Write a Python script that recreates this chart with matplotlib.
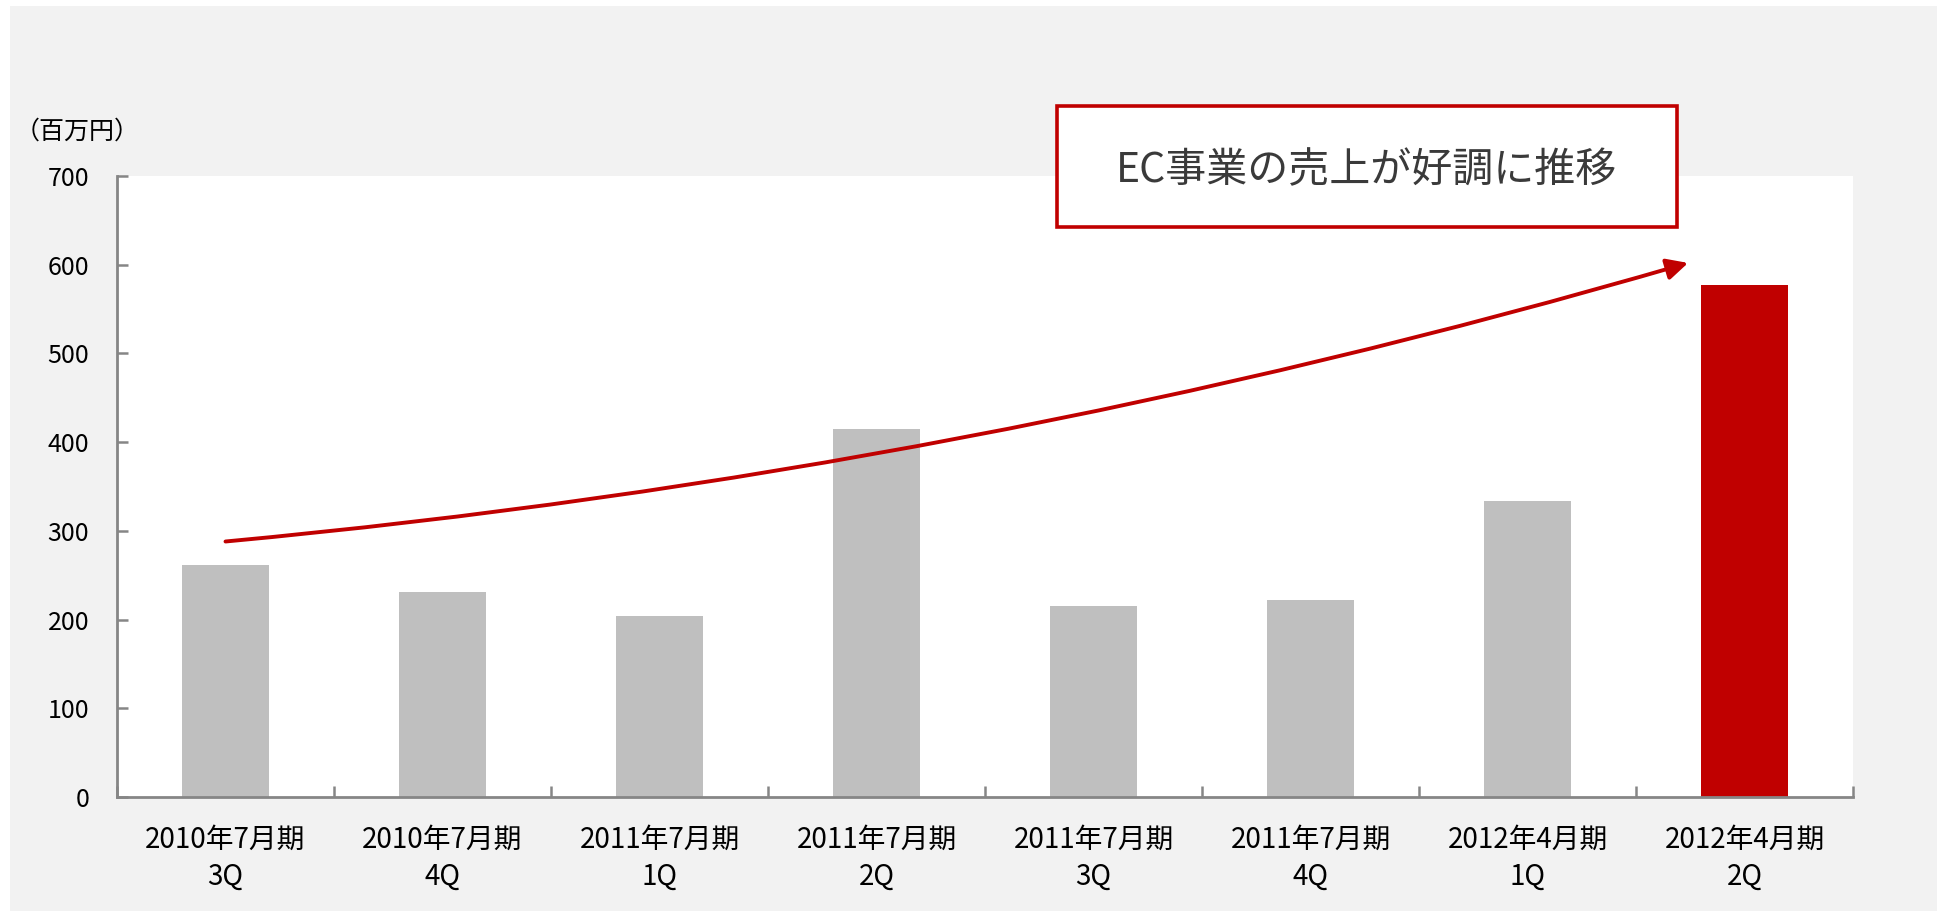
import matplotlib
matplotlib.use("Agg")
import matplotlib.pyplot as plt
from matplotlib.patches import Rectangle, FancyArrowPatch
import numpy as np

plt.rcParams['font.family'] = ['Noto Sans CJK JP', 'DejaVu Sans']

# ---- data ----
periods = ["2010年7月期", "2010年7月期", "2011年7月期", "2011年7月期",
           "2011年7月期", "2011年7月期", "2012年4月期", "2012年4月期"]
quarters = ["3Q", "4Q", "1Q", "2Q", "3Q", "4Q", "1Q", "2Q"]
sales = [261, 231, 204, 415, 215, 222, 334, 577]
highlight_index = 7
unit_label = "（百万円）"
callout_text = "EC事業の売上が好調に推移"
trend_start = (0.0, 288)
trend_end = (6.74, 602)

W, H = 1937, 915
fig = plt.figure(figsize=(W / 100, H / 100), dpi=100)
fig.patch.set_facecolor("white")

# gray background panel
fig.patches.append(Rectangle((10 / W, 0.004), 1 - 10 / W, 1 - 6 / H - 0.004,
                             transform=fig.transFigure, facecolor="#f2f2f2",
                             edgecolor="none", zorder=-10))

ax = fig.add_axes([117 / W, 1 - 797 / H, (1853 - 117) / W, (797 - 176) / H])
ax.set_facecolor("white")
ax.set_zorder(1)

x = np.arange(len(sales))
colors = ["#bfbfbf"] * len(sales)
colors[highlight_index] = "#c00000"
ax.bar(x, sales, width=0.405, color=colors, zorder=2)

ax.set_xlim(-0.5, len(sales) - 0.5)
ax.set_ylim(0, 700)
ax.set_yticks(np.arange(0, 701, 100))

for s in ["top", "right"]:
    ax.spines[s].set_visible(False)
for s in ["left", "bottom"]:
    ax.spines[s].set_color("#868686")
    ax.spines[s].set_linewidth(2.0)

ax.tick_params(axis="y", direction="in", length=8, width=1.8, color="#868686",
               labelsize=18, pad=20, labelcolor="black")
# boundaries as major ticks, labels as minor ticks at centres
ax.set_xticks(np.arange(-0.5, len(sales), 1.0))
ax.set_xticklabels([])
ax.set_xticks(x, minor=True)
ax.set_xticklabels([f"{p}\n{q}" for p, q in zip(periods, quarters)], minor=True,
                   fontsize=20, linespacing=1.32)
ax.tick_params(axis="x", which="major", direction="in", length=8, width=1.8,
               color="#868686")
ax.tick_params(axis="x", which="minor", length=0, pad=20, labelcolor="black")

# trend arrow
arrow = FancyArrowPatch(trend_start, trend_end,
                        arrowstyle="-|>,head_length=0.4,head_width=0.2",
                        connectionstyle="arc3,rad=0.048", mutation_scale=32,
                        lw=2.8, color="#c00000", shrinkA=0, shrinkB=0,
                        transform=ax.transData, clip_on=False, zorder=5)
ax.add_patch(arrow)

# callout box
fig.patches.append(Rectangle((1057 / W, 1 - 226.5 / H), (1677 - 1057) / W, 120 / H,
                             transform=fig.transFigure, facecolor="white",
                             edgecolor="#c00000", linewidth=2.6, zorder=6))
fig.text(1367 / W, 1 - 171 / H, callout_text, ha="center", va="center",
         fontsize=29.5, color="#3a3a3a", zorder=7)

fig.text(15 / W, 1 - 132 / H, unit_label, ha="left", va="center",
         fontsize=18, color="black")

fig.savefig("out.png", dpi=100)
